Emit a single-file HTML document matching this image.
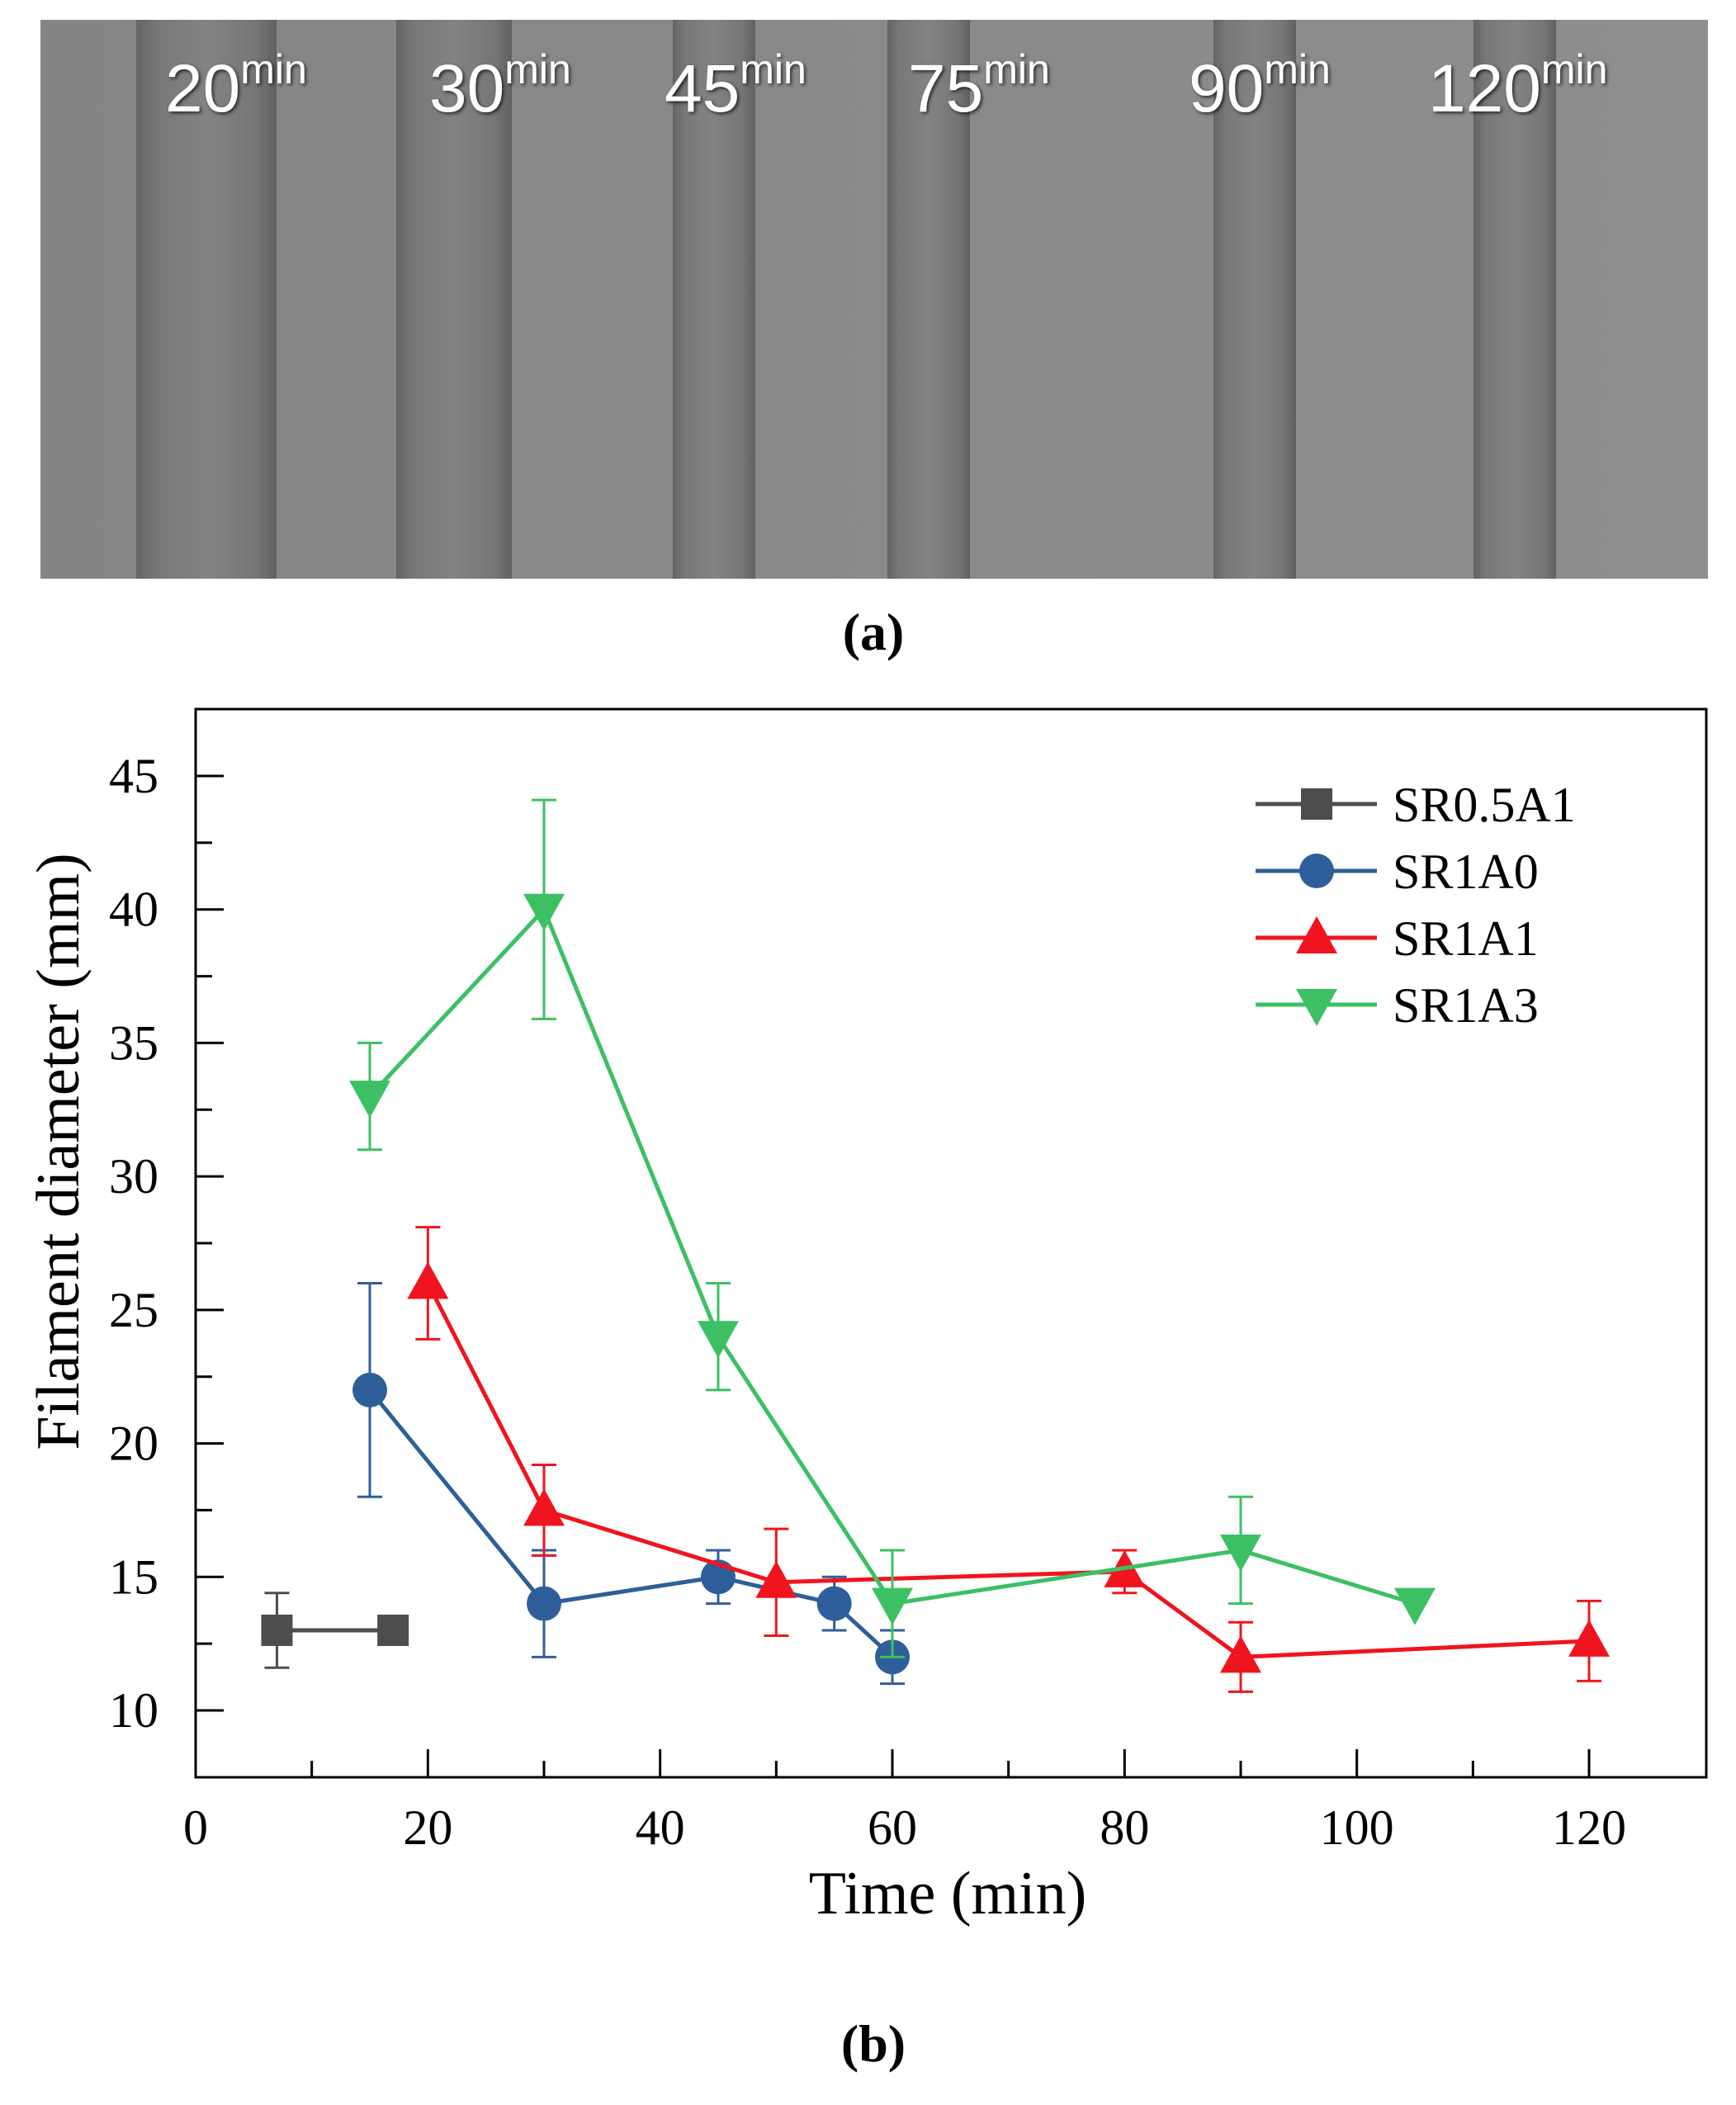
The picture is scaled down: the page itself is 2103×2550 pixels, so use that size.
<!DOCTYPE html>
<html><head><meta charset="utf-8"><style>
body{margin:0;background:#fff;width:2103px;height:2545px;overflow:hidden;font-family:"Liberation Serif",serif}
</style></head><body>
<svg width="2103" height="2545" xmlns="http://www.w3.org/2000/svg">
<defs>
<linearGradient id="bg" x1="0" x2="1"><stop offset="0" stop-color="#858585"/><stop offset="1" stop-color="#8e8e8e"/></linearGradient>
<linearGradient id="fil" x1="0" x2="1"><stop offset="0" stop-color="#646464"/><stop offset="0.15" stop-color="#787878"/><stop offset="0.5" stop-color="#838383"/><stop offset="0.85" stop-color="#767676"/><stop offset="1" stop-color="#606060"/></linearGradient>
<filter id="sh"><feDropShadow dx="2" dy="2" stdDeviation="2" flood-color="#000" flood-opacity="0.7"/></filter>
</defs>
<g>
<rect x="49" y="24" width="2020" height="677" fill="url(#bg)"/>
<g id="filaments"></g>
<g id="photo-labels" font-family="Liberation Sans, sans-serif" fill="#fff" filter="url(#sh)"></g>
</g>
<text x="1058" y="787" text-anchor="middle" font-size="64" font-weight="bold">(a)</text>
<g id="chart"></g>
<text x="1058" y="2497" text-anchor="middle" font-size="64" font-weight="bold">(b)</text>
</svg>
<script>
const NS="http://www.w3.org/2000/svg";
function mk(tag,attrs,parent,text){const e=document.createElementNS(NS,tag);for(const k in attrs)e.setAttribute(k,attrs[k]);if(text!==undefined)e.textContent=text;parent.appendChild(e);return e;}

const filCenters=[250,550,865,1125,1520,1835];
const filWidths=[170,140,100,100,100,100];
const photoLabels=["20","30","45","75","90","120"];
const labelX=[200,520,805,1100,1440,1730];
const fg=document.getElementById('filaments');
filCenters.forEach((c,i)=>{const r=mk('rect',{x:c-filWidths[i]/2,y:24,width:filWidths[i],height:677,fill:'url(#fil)'},fg);

});
const pl=document.getElementById('photo-labels');
photoLabels.forEach((t,i)=>{const tx=mk('text',{x:labelX[i],y:135,'font-size':82},pl);


mk('tspan',{},tx,t);mk('tspan',{'font-size':50,dy:-34},tx,'min');});

const series=["SR0.5A1","SR1A0","SR1A1","SR1A3"];
const colors=["#4d4d4d","#2e5f9a","#f0141e","#3cc063"];
const xA=[7,17];const yA=[13,13];const eA=[1.4,0];
const xB=[15,30,45,55,60];const yB=[22,14,15,14,12];const eB=[4,2,1,1,1];
const xC=[20,30,50,80,90,120];const yC=[26,17.5,14.8,15.2,12,12.6];const eC=[2.1,1.7,2,0.8,1.3,1.5];
const xD=[15,30,45,60,90,105];const yD=[33,40,24,14,16,14];const eD=[2,4.1,2,2,2,0];
const xTicks=[0,20,40,60,80,100,120];
const yTicks=[10,15,20,25,30,35,40,45];

const L=237,R=2067,T=859,B=2153;
const X=v=>237+v*(1925-237)/120;
const Y=v=>2072-(v-10)*(2072-940)/35;
const g=document.getElementById('chart');
const frame=mk('rect',{x:L,y:T,width:R-L,height:B-T,fill:'none',stroke:'#000','stroke-width':3},g);


for(let v=0;v<=125;v+=10){const maj=v%20===0;mk('line',{x1:X(v),x2:X(v),y1:B,y2:B-(maj?34:20),stroke:'#000','stroke-width':3},g);}
xTicks.forEach(v=>{const t=mk('text',{x:X(v),y:2234,'text-anchor':'middle','font-size':60},g,v);

});
for(let v=10;v<=47;v+=2.5){const maj=v%5===0;mk('line',{x1:L,x2:L+(maj?34:20),y1:Y(v),y2:Y(v),stroke:'#000','stroke-width':3},g);}
yTicks.forEach(v=>{const t=mk('text',{x:192,y:Y(v)+20,'text-anchor':'end','font-size':60},g,v);

});
const xt=mk('text',{x:1148,y:2318,'text-anchor':'middle','font-size':74},g,'Time (min)');


const yt=mk('text',{x:0,y:0,'text-anchor':'middle','font-size':74,transform:'translate(95,1395) rotate(-90)'},g,'Filament diameter (mm)');



function marker(shape,cx,cy,col,parent){
 if(shape===0)return mk('rect',{x:cx-19,y:cy-19,width:38,height:38,fill:col},parent);
 if(shape===1)return mk('circle',{cx:cx,cy:cy,r:21,fill:col},parent);
 if(shape===2)return mk('polygon',{points:`${cx},${cy-26} ${cx+25},${cy+19} ${cx-25},${cy+19}`,fill:col},parent);
 return mk('polygon',{points:`${cx},${cy+26} ${cx+25},${cy-19} ${cx-25},${cy-19}`,fill:col},parent);
}
const all=[[xA,yA,eA],[xB,yB,eB],[xC,yC,eC],[xD,yD,eD]];
all.forEach((s,si)=>{
 const sg=mk('g',{},g);
 
 
 const [xs,ys,es]=s;const col=colors[si];
 xs.forEach((x,i)=>{if(es[i]>0){const cx=X(x);
  mk('line',{x1:cx,x2:cx,y1:Y(ys[i]+es[i]),y2:Y(ys[i]-es[i]),stroke:col,'stroke-width':3},sg);
  mk('line',{x1:cx-15,x2:cx+15,y1:Y(ys[i]+es[i]),y2:Y(ys[i]+es[i]),stroke:col,'stroke-width':3},sg);
  mk('line',{x1:cx-15,x2:cx+15,y1:Y(ys[i]-es[i]),y2:Y(ys[i]-es[i]),stroke:col,'stroke-width':3},sg);}});
 const ln=mk('polyline',{points:xs.map((x,i)=>X(x)+','+Y(ys[i])).join(' '),fill:'none',stroke:col,'stroke-width':5},sg);
 
 
 xs.forEach((x,i)=>{const m=marker(si,X(x),Y(ys[i]),col,sg);
  
  });
 const ly=974+si*81;
 const lg=mk('g',{},g);
 
 
 mk('line',{x1:1521,x2:1668,y1:ly,y2:ly,stroke:col,'stroke-width':5},lg);
 marker(si,1595,ly,col,lg);
 mk('text',{x:1687,y:ly+21,'font-size':60},lg,series[si]);
});
</script>
</body></html>
